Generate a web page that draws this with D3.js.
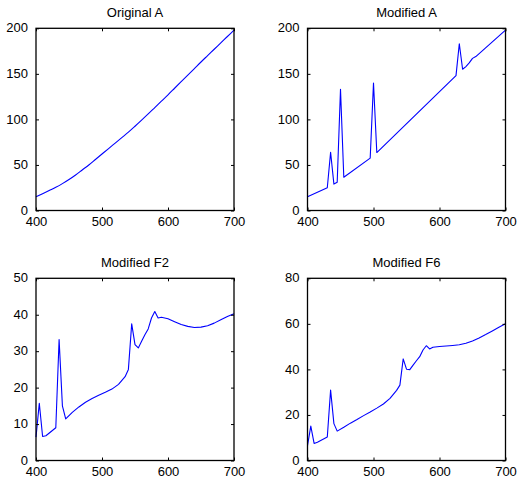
<!DOCTYPE html>
<html>
<head>
<meta charset="utf-8">
<script src="https://cdn.jsdelivr.net/npm/d3@7"></script>
<style>
  html, body { margin: 0; padding: 0; background: #fff; }
  svg { display: block; }
  text { font-family: "Liberation Sans", Arial, Helvetica, sans-serif; fill: #000; }
</style>
</head>
<body>
<svg id="chart" width="517" height="480"></svg>
<script>
// ---- Data ----
const titles = ["Original A", "Modified A", "Modified F2", "Modified F6"];
const xTicks = [400, 500, 600, 700];
const yTicksA = [0, 50, 100, 150, 200];
const yTicksF2 = [0, 10, 20, 30, 40, 50];
const yTicksF6 = [0, 20, 40, 60, 80];

const origAx = [400,410,420,430,440,450,460,470,480,490,500,510,520,530,540,550,560,570,580,590,600,610,620,630,640,650,660,670,680,690,700];
const origAy = [15,18.5,22,25.5,29.5,34,39,44.5,50,56,62,68,74,80,86,92.5,99.2,106,113,120,127,134.2,141.4,148.6,155.8,163,170,177,184,191,198];

const modAx = [400,430,435,440,445,450,455,495,500,505,625,630,635,640,645,650,655,700];
const modAy = [15,25,64,29,31,133,36.5,57.5,140,63.6,148,183,155,158,162,167,169,198];

const fx = [400,405,410,415,430,435,440,445,455,465,475,485,495,505,515,525,535,540,545,550,555,560,565,570,575,580,585,590,600,610,620,630,640,650,660,670,680,690,700];
const f2y = [6.4,15.7,6.6,6.8,9.0,33.2,15.0,11.4,13.2,14.7,16.0,17.0,17.9,18.7,19.6,20.9,23.0,25.0,37.5,31.8,30.9,32.7,34.5,36.1,39.1,40.9,39.1,39.3,38.9,38.1,37.3,36.8,36.5,36.6,37.0,37.7,38.6,39.5,40.3];
const f6y = [6.5,15.1,7.5,8.0,10.3,30.9,16.2,12.9,14.6,16.4,18.0,19.7,21.3,23.0,24.8,27.3,30.8,33.1,44.6,40.1,39.9,41.9,43.8,45.6,48.5,50.4,49.0,49.7,50.05,50.25,50.5,50.8,51.5,52.5,53.8,55.3,56.9,58.5,60.0];

// ---- Layout ----
const panels = [
  { title: titles[0], xs: origAx, ys: origAy, yTicks: yTicksA, yMax: 200, smooth: true, x0: 36, x1: 234, y0: 28.3, y1: 210.5 },
  { title: titles[1], xs: modAx, ys: modAy, yTicks: yTicksA, yMax: 200, x0: 307.5, x1: 505.5, y0: 28.3, y1: 210.5 },
  { title: titles[2], xs: fx, ys: f2y, yTicks: yTicksF2, yMax: 50, x0: 36, x1: 234, y0: 278.3, y1: 460.5 },
  { title: titles[3], xs: fx, ys: f6y, yTicks: yTicksF6, yMax: 80, x0: 307.5, x1: 505.5, y0: 278.3, y1: 460.5 }
];

const svg = d3.select("#chart");
const tickLen = 3;

panels.forEach(p => {
  const x = d3.scaleLinear().domain([400, 700]).range([p.x0, p.x1]);
  const y = d3.scaleLinear().domain([0, p.yMax]).range([p.y1, p.y0]);
  const g = svg.append("g");

  // data line
  const pts = p.xs.map((v, i) => [v, p.ys[i]]);
  const line = d3.line().x(d => x(d[0])).y(d => y(d[1]));
  if (p.smooth) line.curve(d3.curveMonotoneX);
  g.append("path")
    .datum(pts)
    .attr("fill", "none")
    .attr("stroke", "#0000ff")
    .attr("stroke-width", 1.1)
    .attr("stroke-linejoin", "round")
    .attr("d", line);

  const styleAxis = sel => {
    sel.select(".domain").remove();
    sel.selectAll(".tick line").attr("stroke", "#000").attr("stroke-width", 1);
    sel.selectAll(".tick text").style("font-size", "13px").attr("fill", "#000");
  };

  g.append("g")
    .attr("transform", `translate(0,${p.y1})`)
    .call(d3.axisBottom(x).tickValues(xTicks).tickSize(-tickLen).tickFormat(d3.format("d")))
    .call(styleAxis)
    .selectAll(".tick text").attr("y", 15).attr("dy", 0);

  g.append("g")
    .attr("transform", `translate(0,${p.y0})`)
    .call(d3.axisTop(x).tickValues(xTicks).tickSize(-tickLen).tickFormat(""))
    .call(styleAxis);

  g.append("g")
    .attr("transform", `translate(${p.x0},0)`)
    .call(d3.axisLeft(y).tickValues(p.yTicks).tickSize(-tickLen).tickPadding(8).tickFormat(d3.format("d")))
    .call(styleAxis)
    .selectAll(".tick text").attr("dy", "0.28em");

  g.append("g")
    .attr("transform", `translate(${p.x1},0)`)
    .call(d3.axisRight(y).tickValues(p.yTicks).tickSize(-tickLen).tickFormat(""))
    .call(styleAxis);

  // box
  g.append("rect")
    .attr("x", p.x0).attr("y", p.y0)
    .attr("width", p.x1 - p.x0).attr("height", p.y1 - p.y0)
    .attr("fill", "none").attr("stroke", "#000").attr("stroke-width", 1.3);

  // title
  g.append("text")
    .attr("x", (p.x0 + p.x1) / 2)
    .attr("y", p.y0 - 11)
    .attr("text-anchor", "middle")
    .style("font-size", "13px")
    .text(p.title);
});
</script>
</body>
</html>
